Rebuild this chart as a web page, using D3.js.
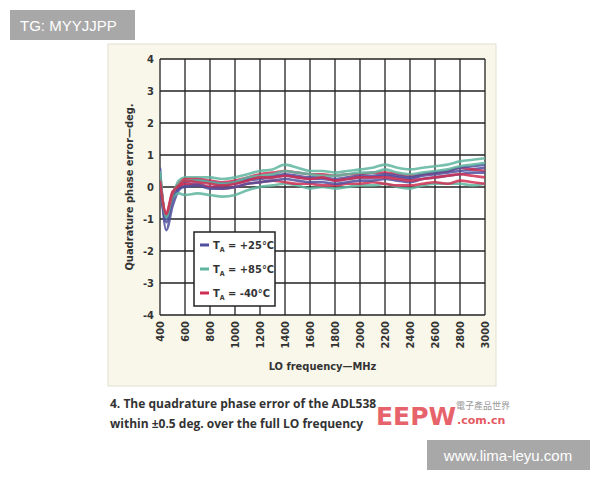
<!DOCTYPE html>
<html><head><meta charset="utf-8">
<script src="https://cdn.jsdelivr.net/npm/d3@7/dist/d3.min.js"></script>
<style>body{margin:0;background:#fff;}svg{display:block;}</style>
</head><body>
<svg width="600" height="480"></svg>
<script>
// LO frequency (MHz) sample points
const freqs = [400,450,500,550,600,700,800,900,1000,1100,1200,1300,1400,1500,1600,1700,1800,1900,2000,2100,2200,2300,2400,2500,2600,2700,2800,2900,3000];
const xTicks = [400,600,800,1000,1200,1400,1600,1800,2000,2200,2400,2600,2800,3000];
const yTicks = [-4,-3,-2,-1,0,1,2,3,4];

// traces per temperature (quadrature phase error, deg)
const t25 = [
  [0.6,-1.35,-0.6,-0.1,0.05,0.1,0.0,0.05,0.1,0.2,0.25,0.3,0.35,0.3,0.25,0.25,0.2,0.25,0.3,0.3,0.35,0.3,0.25,0.35,0.4,0.45,0.5,0.55,0.6],
  [0.3,-1.1,-0.4,0.0,0.15,0.2,0.15,0.1,0.15,0.25,0.3,0.35,0.4,0.35,0.3,0.3,0.25,0.3,0.35,0.35,0.4,0.35,0.3,0.4,0.45,0.5,0.6,0.65,0.7],
  [0.0,-1.0,-0.3,-0.05,0.0,0.05,-0.05,-0.05,0.0,0.1,0.15,0.2,0.25,0.2,0.15,0.15,0.1,0.15,0.2,0.2,0.25,0.2,0.15,0.25,0.3,0.35,0.4,0.45,0.45]
];
const t85 = [
  [0.5,-1.0,-0.3,0.2,0.3,0.3,0.3,0.25,0.3,0.4,0.5,0.55,0.7,0.6,0.5,0.5,0.45,0.5,0.55,0.6,0.7,0.6,0.55,0.6,0.65,0.7,0.8,0.85,0.9],
  [0.2,-0.9,-0.35,-0.2,-0.25,-0.2,-0.25,-0.3,-0.25,-0.1,0.0,0.05,0.1,0.05,-0.05,0.0,-0.05,0.0,0.05,0.05,0.1,0.0,-0.05,0.05,0.1,0.1,0.1,0.05,0.1],
  [0.4,-0.95,-0.25,0.1,0.2,0.2,0.15,0.1,0.15,0.3,0.35,0.4,0.5,0.45,0.4,0.35,0.35,0.4,0.45,0.45,0.55,0.45,0.4,0.45,0.5,0.55,0.65,0.7,0.75]
];
const tm40 = [
  [0.3,-0.9,-0.2,0.1,0.25,0.25,0.2,0.15,0.2,0.3,0.4,0.45,0.5,0.45,0.4,0.4,0.35,0.4,0.4,0.45,0.45,0.4,0.35,0.4,0.45,0.5,0.6,0.55,0.5],
  [0.1,-0.8,-0.15,0.0,0.1,0.05,0.0,-0.05,0.0,0.1,0.15,0.2,0.15,0.1,0.1,0.05,0.05,0.1,0.1,0.15,0.1,0.05,0.05,0.1,0.15,0.1,0.2,0.15,0.1],
  [0.2,-0.85,-0.2,0.05,0.2,0.15,0.1,0.05,0.1,0.2,0.3,0.3,0.35,0.3,0.25,0.3,0.2,0.25,0.3,0.3,0.3,0.25,0.2,0.25,0.3,0.35,0.4,0.35,0.3]
];
const series = [
  {label:"+25°C", color:"#4f4f9e", traces:t25},
  {label:"+85°C", color:"#5fb5a0", traces:t85},
  {label:"-40°C", color:"#cf2f52", traces:tm40}
];

const svg = d3.select("svg");
// watermark boxes
svg.append("rect").attr("x",10).attr("y",10).attr("width",125).attr("height",30).attr("fill","#a8a8a8");
svg.append("text").attr("x",20).attr("y",31).attr("fill","#fff").attr("font-family","Liberation Sans, Arial").attr("font-size",15).text("TG: MYYJJPP");

// panel
svg.append("rect").attr("x",108).attr("y",44).attr("width",388).attr("height",342).attr("fill","#f8f7ea").attr("stroke","#e0dfd0");

const pL=160, pR=485, pT=59, pB=315;
const x = d3.scaleLinear().domain([400,3000]).range([pL,pR]);
const y = d3.scaleLinear().domain([-4,4]).range([pB,pT]);

const g = svg.append("g");
g.append("rect").attr("x",pL).attr("y",pT).attr("width",pR-pL).attr("height",pB-pT).attr("fill","#fff");
g.selectAll(".vg").data(xTicks).enter().append("line")
  .attr("x1",d=>x(d)).attr("x2",d=>x(d)).attr("y1",pT).attr("y2",pB).attr("stroke","#222").attr("stroke-width",1.3);
g.selectAll(".hg").data(yTicks).enter().append("line")
  .attr("x1",pL).attr("x2",pR).attr("y1",d=>y(d)).attr("y2",d=>y(d)).attr("stroke","#222").attr("stroke-width",1.3);

const font = "DejaVu Sans Condensed, Liberation Sans Narrow, sans-serif";
g.selectAll(".yl").data(yTicks).enter().append("text")
  .attr("x",pL-6).attr("y",d=>y(d)+4).attr("text-anchor","end").attr("font-family",font).attr("font-weight","bold").attr("font-size",11).attr("fill","#333").text(d=>d);
g.selectAll(".xl").data(xTicks).enter().append("text")
  .attr("transform",d=>`translate(${x(d)+4},${pB+6}) rotate(-90)`).attr("text-anchor","end").attr("font-family",font).attr("font-weight","bold").attr("font-size",11).attr("fill","#333").text(d=>d);

svg.append("text").attr("transform",`translate(133,${(pT+pB)/2}) rotate(-90)`).attr("text-anchor","middle")
  .attr("font-family",font).attr("font-weight","bold").attr("font-size",11).attr("fill","#333").text("Quadrature phase error—deg.");
svg.append("text").attr("x",(pL+pR)/2).attr("y",370).attr("text-anchor","middle")
  .attr("font-family",font).attr("font-weight","bold").attr("font-size",11).attr("fill","#333").text("LO frequency—MHz");

const line = d3.line().x((d,i)=>x(freqs[i])).y(d=>y(d)).curve(d3.curveMonotoneX);
svg.append("clipPath").attr("id","c").append("rect").attr("x",pL).attr("y",pT).attr("width",pR-pL).attr("height",pB-pT);
const lg = svg.append("g").attr("clip-path","url(#c)");
// interleave traces so colours mix
for (let k=0;k<3;k++) series.forEach(s=>{
  lg.append("path").attr("d",line(s.traces[k])).attr("fill","none").attr("stroke",s.color).attr("stroke-width",2.6).attr("opacity",0.85);
});

// legend
const leg = svg.append("g").attr("transform","translate(194,232)");
leg.append("rect").attr("width",81).attr("height",74).attr("fill","#fff").attr("stroke","#222").attr("stroke-width",1.5);
series.forEach((s,i)=>{
  const yy = 13+i*24;
  leg.append("line").attr("x1",6).attr("x2",15).attr("y1",yy).attr("y2",yy).attr("stroke",s.color).attr("stroke-width",3);
  const t = leg.append("text").attr("x",19).attr("y",yy+4).attr("font-family",font).attr("font-weight","bold").attr("font-size",11).attr("fill","#333");
  t.append("tspan").text("T");
  t.append("tspan").attr("font-size",7).attr("dy",3).text("A");
  t.append("tspan").attr("dy",-3).text(" = "+s.label);
});

// caption
const cf = "Open Sans, Noto Sans, sans-serif";
svg.append("text").attr("x",110).attr("y",408).attr("font-family",cf).attr("font-weight","bold").attr("font-size",12).attr("fill","#333").text("4. The quadrature phase error of the ADL538");
svg.append("text").attr("x",110).attr("y",428).attr("font-family",cf).attr("font-weight","bold").attr("font-size",12).attr("fill","#333").text("within ±0.5 deg. over the full LO frequency");
svg.append("text").attr("x",376).attr("y",425).attr("font-family","DejaVu Sans, sans-serif").attr("font-weight","bold").attr("font-size",25).attr("fill","#e0303a").attr("opacity",0.75).text("EEPW");
svg.append("text").attr("x",456).attr("y",409).attr("font-family","Noto Sans CJK SC").attr("font-size",9).attr("fill","#999").text("電子產品世界");
svg.append("text").attr("x",457).attr("y",424).attr("font-family","DejaVu Sans, sans-serif").attr("font-weight","bold").attr("font-size",11).attr("fill","#e0303a").attr("opacity",0.8).text(".com.cn");

svg.append("rect").attr("x",427).attr("y",440).attr("width",163).attr("height",30).attr("fill","#a8a8a8");
svg.append("text").attr("x",508).attr("y",461).attr("text-anchor","middle").attr("fill","#fff").attr("font-family","Liberation Sans, Arial").attr("font-size",15).text("www.lima-leyu.com");
</script>
</body></html>
